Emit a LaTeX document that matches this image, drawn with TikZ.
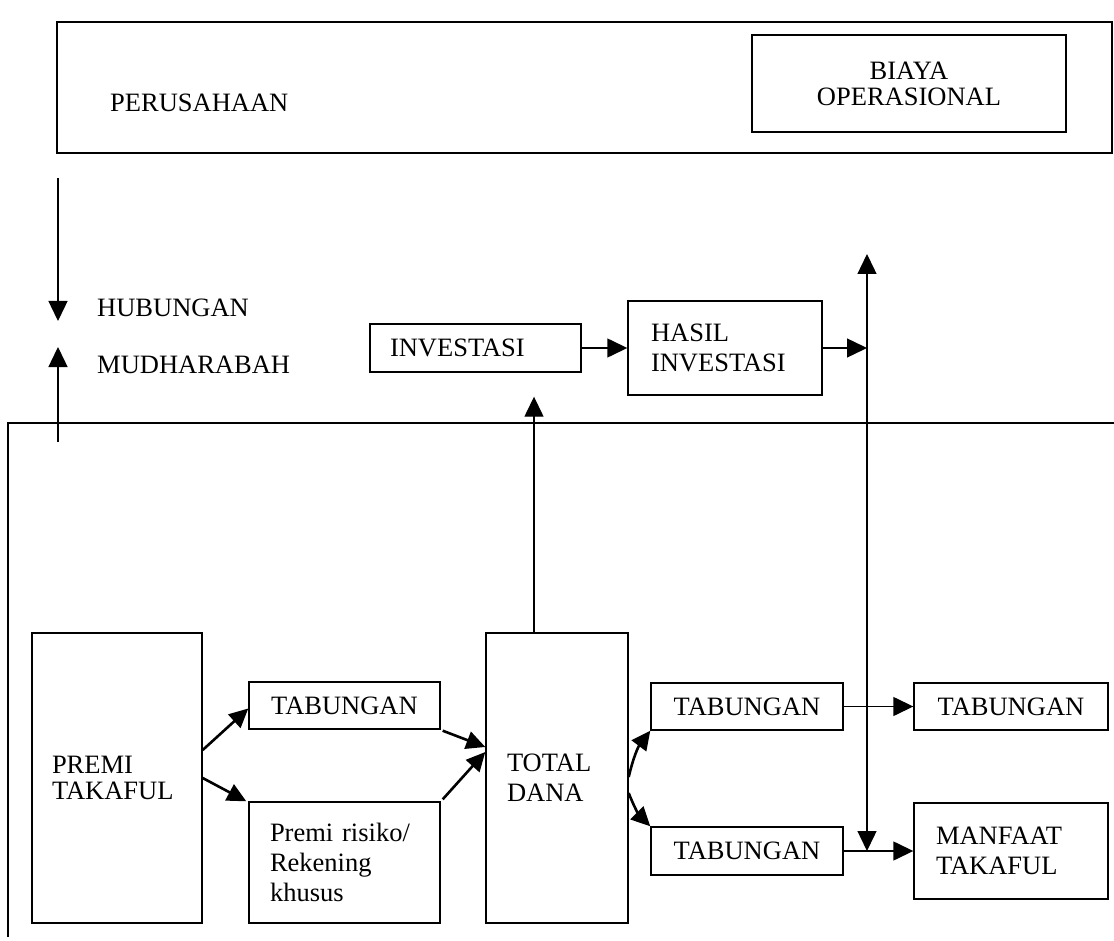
\documentclass[tikz,border=0pt]{standalone}
\usepackage{fontspec}
\setmainfont{Liberation Serif}
\usetikzlibrary{arrows.meta,calc}
\begin{document}
\begin{tikzpicture}[x=1pt,y=-1pt,
  every node/.style={font=\fontsize{26.5}{30}\selectfont},
  bx/.style={draw, line width=1.4pt, inner sep=0pt},
  arr/.style={line width=1.4pt, -{Triangle[length=20pt,width=19pt]}},
  darr/.style={line width=2.6pt, -{Triangle[length=19pt,width=18pt]}},
  ln/.style={line width=1.4pt}]
\useasboundingbox (0,0) rectangle (1114,941);

% company
\node[bx, minimum width=1055, minimum height=131] (company) at (584.5,87.5) {};
\node[anchor=west, inner sep=0pt] (perus) at (110,103) {PERUSAHAAN};
\node[bx, minimum width=314, minimum height=97, align=center,
      font=\fontsize{26.5}{26}\selectfont] (biaya) at (909,83.5) {BIAYA\\OPERASIONAL};

% mudharabah relation
\coordinate (hubtop) at (58,178);
\coordinate (hubtip) at (58,321);
\coordinate (mudbot) at (58,442);
\coordinate (mudtip) at (58,347);
\draw[arr] (hubtop) -- (hubtip);
\draw[arr] (mudbot) -- (mudtip);
\node[anchor=west, inner sep=0pt] (hub) at (97,308) {HUBUNGAN};
\node[anchor=west, inner sep=0pt] (mud) at (97,365) {MUDHARABAH};

% participant region
\coordinate (regTL) at (8,423);
\coordinate (regTR) at (1114,423);
\coordinate (regBL) at (8,937);
\draw[ln] (regTR) -- (regTL) -- (regBL);

% boxes
\node[bx, minimum width=211, minimum height=48, text width=171, align=left] (inv) at (475.5,348) {INVESTASI};
\node[bx, minimum width=194, minimum height=94, text width=148, align=left] (hasil) at (725,348) {HASIL\\INVESTASI};
\node[bx, minimum width=170, minimum height=290, text width=130, align=left,
      font=\fontsize{26.5}{26}\selectfont] (premi) at (117,778) {PREMI\\TAKAFUL};
\node[bx, minimum width=191, minimum height=47] (tab1) at (344.5,705.5) {TABUNGAN};
\node[bx, minimum width=191, minimum height=121, text width=149, align=left] (risiko) at (344.5,862.5) {Premi risiko/\\Rekening\\khusus};
\node[bx, minimum width=142, minimum height=290, text width=100, align=left] (total) at (557,778) {TOTAL\\DANA};
\node[bx, minimum width=192, minimum height=47] (tab2) at (747,706.5) {TABUNGAN};
\node[bx, minimum width=194, minimum height=47] (tab3) at (1011,706.5) {TABUNGAN};
\node[bx, minimum width=192, minimum height=48] (tab4) at (747,851) {TABUNGAN};
\node[bx, minimum width=194, minimum height=96, text width=150, align=left] (manf) at (1011,851) {MANFAAT\\TAKAFUL};

% connectors
\draw[darr] ($(premi.east)+(0,-28)$) -- ($(tab1.west)+(0,3)$);
\draw[darr] (premi.east) -- ($(risiko.north west)+(-2,0)$);
\draw[darr] ($(tab1.south east)+(2,1)$) -- ($(total.west)+(0,-31)$);
\draw[darr] ($(risiko.north east)+(2,-2)$) -- ($(total.west)+(0,-26)$);

\coordinate (tdtop) at ($(total.north)+(-23,0)$);
\draw[arr, shorten >=24pt] (tdtop) -- (tdtop |- inv.south);
\draw[arr] (inv) -- (hasil);
\coordinate (vjoin) at (867,348);
\coordinate (vtop) at (867,254);
\draw[arr] (hasil.east) -- (vjoin);
\draw[arr] (vjoin) -- (vtop);
\draw[arr] (vjoin) -- (vjoin |- tab4.east);
\draw[arr] (tab2) -- (tab3);
\draw[arr] (tab4) -- (manf);
\draw[darr] ($(total.east)+(0,-1)$) to[bend left=12] (tab2.south west);
\draw[darr] ($(total.east)+(0,15)$) to[bend right=12] (tab4.north west);
\end{tikzpicture}
\end{document}
